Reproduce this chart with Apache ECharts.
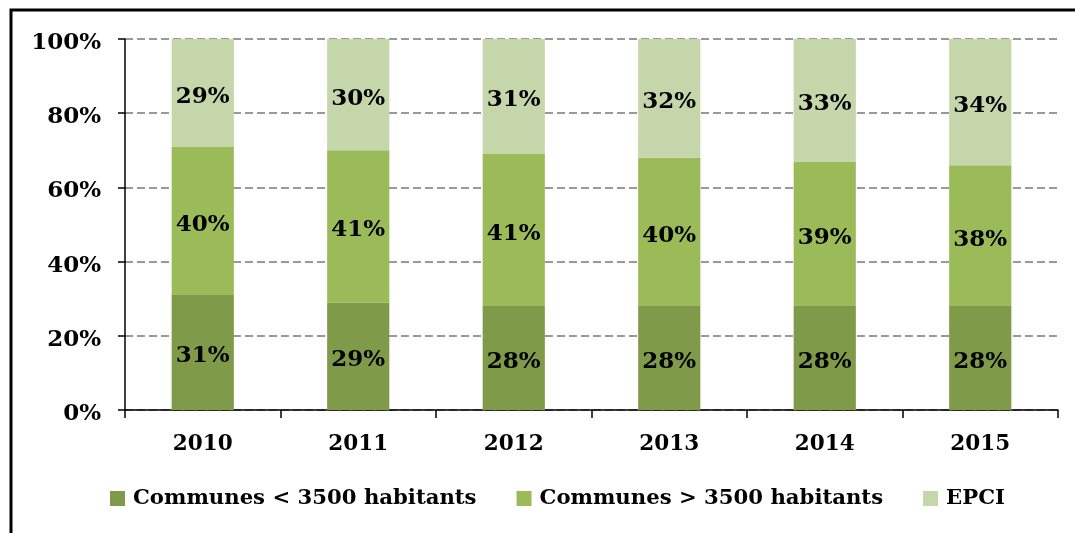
<!DOCTYPE html>
<html>
<head>
<meta charset="utf-8">
<script src="https://cdn.jsdelivr.net/npm/echarts@6/dist/echarts.min.js"></script>
<style>
html,body{margin:0;padding:0;background:#fff;}
#chart{width:1075px;height:533px;}
</style>
</head>
<body>
<div id="chart"></div>
<script>
var categories = ['2010', '2011', '2012', '2013', '2014', '2015'];
var seriesNames = ['Communes < 3500 habitants', 'Communes > 3500 habitants', 'EPCI'];
var communesPetites = [31, 29, 28, 28, 28, 28];
var communesGrandes = [40, 41, 41, 40, 39, 38];
var epci = [29, 30, 31, 32, 33, 34];
var yTicks = [0, 20, 40, 60, 80, 100];

var FONT = 'DejaVu Serif';
var colors = ['#7F9A48', '#9BBB59', '#C4D6AA'];

var chart = echarts.init(document.getElementById('chart'));
function mk(name, data, color) {
  return {
    name: name, type: 'bar', stack: 'total', data: data,
    barWidth: '40%',
    itemStyle: { color: color },
    label: {
      show: true, position: 'inside', formatter: '{c}%', offset: [0, 4],
      color: '#000', fontFamily: FONT, fontWeight: 'bold', fontSize: 23
    },
    emphasis: { disabled: true }
  };
}
chart.setOption({
  animation: false,
  grid: { left: 125, right: 17, top: 39, bottom: 123, containLabel: false },
  graphic: [{
    type: 'rect', shape: { x: 11, y: 10, width: 1200, height: 700 },
    style: { fill: 'none', stroke: '#000', lineWidth: 3 }, silent: true, z: 100
  }],
  legend: {
    bottom: 19, left: 105, itemWidth: 15, itemHeight: 15, itemGap: 40,
    icon: 'rect',
    textStyle: { fontFamily: FONT, fontWeight: 'bold', fontSize: 21.2, color: '#000', padding: [0, 0, 0, 3] },
    data: seriesNames
  },
  xAxis: {
    type: 'category', data: categories,
    axisLine: { lineStyle: { color: '#000', width: 1.5 } },
    axisTick: { show: true, length: 8, lineStyle: { color: '#000', width: 1.5 } },
    axisLabel: { fontFamily: FONT, fontWeight: 'bold', fontSize: 21.5, color: '#000', margin: 23 }
  },
  yAxis: {
    type: 'value', min: 0, max: 100, interval: 20,
    axisLine: { show: true, lineStyle: { color: '#000', width: 1.5 } },
    axisTick: { show: true, length: 7, lineStyle: { color: '#000', width: 1.5 } },
    axisLabel: { color: '#000', margin: 24,
      formatter: function (v) { return yTicks.indexOf(v) >= 0 ? '{a|' + v + '%}' : ''; },
      rich: { a: { fontFamily: FONT, fontWeight: 'bold', fontSize: 23, color: '#000', padding: [8, 0, 0, 0] } } },
    splitLine: { show: true, lineStyle: { color: '#999', width: 2, type: [8, 4] } }
  },
  series: [
    mk(seriesNames[0], communesPetites, colors[0]),
    mk(seriesNames[1], communesGrandes, colors[1]),
    mk(seriesNames[2], epci, colors[2])
  ]
});
</script>
</body>
</html>
